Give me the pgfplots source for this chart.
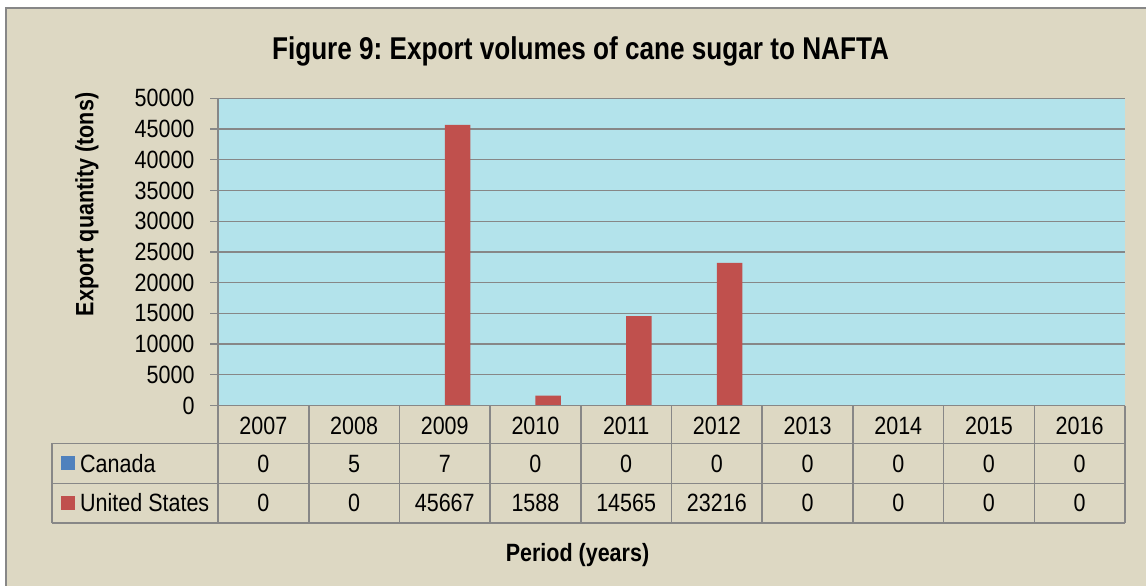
\documentclass[border=0pt]{standalone}
\usepackage{fontspec}
\setmainfont{Liberation Sans}[FakeStretch=0.86]
\newfontfamily\titlefont{Liberation Sans}[FakeStretch=0.83]
\frenchspacing
\usepackage{pgfplots}
\pgfplotsset{compat=1.18}
\usepackage{pgfplotstable}
\definecolor{bg}{HTML}{DDD8C3}
\definecolor{gridc}{HTML}{878787}
\definecolor{plotbg}{HTML}{B3E3EB}
\definecolor{canc}{HTML}{4F81BD}
\definecolor{usc}{HTML}{C0504D}

\pgfplotstableread{
idx year canada us
0 2007 0 0
1 2008 5 0
2 2009 7 45667
3 2010 0 1588
4 2011 0 14565
5 2012 0 23216
6 2013 0 0
7 2014 0 0
8 2015 0 0
9 2016 0 0
}\datatable

\begin{document}
\begin{tikzpicture}[x=1pt,y=-1pt]
\useasboundingbox (0,0) rectangle (1146,586);
\clip (0,0) rectangle (1146,586);
\fill[white] (0,0) rectangle (1146,586);
\filldraw[fill=bg,draw=gridc,line width=2pt] (6,8) rectangle (1170,610);
\node[font=\titlefont\bfseries\fontsize{31.5}{36}\selectfont,anchor=base] at (580.5,59.3) {Figure 9: Export volumes of cane sugar to NAFTA};
\begin{axis}[at={(218pt,-405.5pt)}, anchor=south west, scale only axis,
  width=907pt, height=307.2pt,
  xmin=-0.5, xmax=9.5, ymin=0, ymax=50000,
  ybar=0pt, bar width=25.5pt,
  axis background/.style={fill=plotbg},
  axis x line*=bottom, axis y line*=left,
  axis line style={-, gridc, line width=1.3pt},
  xtick=\empty, ytick={0,5000,...,50000},
  ymajorgrids, grid style={gridc, line width=1.3pt},
  y tick style={gridc, line width=1.3pt},
  tick align=outside, major tick length=8pt,
  yticklabel style={font=\fontsize{25}{30}\selectfont, xshift=-12pt},
  /pgf/number format/assume math mode=true,
  /pgf/number format/set thousands separator={},
  scaled y ticks=false, clip=false]
\addplot[fill=canc, draw=none] table[x=idx,y=canada]{\datatable};
\addplot[fill=usc, draw=none] table[x=idx,y=us]{\datatable};
\end{axis}
% data table
\begin{scope}[gridc, line width=1.6pt]
\draw (218,405.5) -- (1125,405.5);
\foreach \yy in {443.3,483.3,522.7} \draw (52,\yy) -- (1125,\yy);
\draw (52,443.3) -- (52,522.7);
\foreach \k in {0,...,10} \draw ({218+90.7*\k},405.5) -- ({218+90.7*\k},522.7);
\end{scope}
\fill[canc] (61,456) rectangle (75,470);
\fill[usc] (61,496) rectangle (75,510);
\begin{scope}[font=\fontsize{25}{30}\selectfont]
\node[anchor=base west,inner sep=0pt] at (80,472.5) {Canada};
\node[anchor=base west,inner sep=0pt] at (80,511) {United States};
\pgfplotstableforeachcolumnelement{year}\of\datatable\as\cell{%
  \node[anchor=base,inner sep=0pt] at ({218+90.7*\pgfplotstablerow+45.35},434.5) {\cell};}
\pgfplotstableforeachcolumnelement{canada}\of\datatable\as\cell{%
  \node[anchor=base,inner sep=0pt] at ({218+90.7*\pgfplotstablerow+45.35},472.5) {\cell};}
\pgfplotstableforeachcolumnelement{us}\of\datatable\as\cell{%
  \node[anchor=base,inner sep=0pt] at ({218+90.7*\pgfplotstablerow+45.35},511) {\cell};}
\end{scope}
\node[font=\bfseries\fontsize{25}{30}\selectfont,anchor=base,rotate=90] at (93.3,204.5) {Export quantity (tons)};
\node[font=\bfseries\fontsize{25}{30}\selectfont,anchor=base] at (577.5,561.7) {Period (years)};
\end{tikzpicture}
\end{document}
